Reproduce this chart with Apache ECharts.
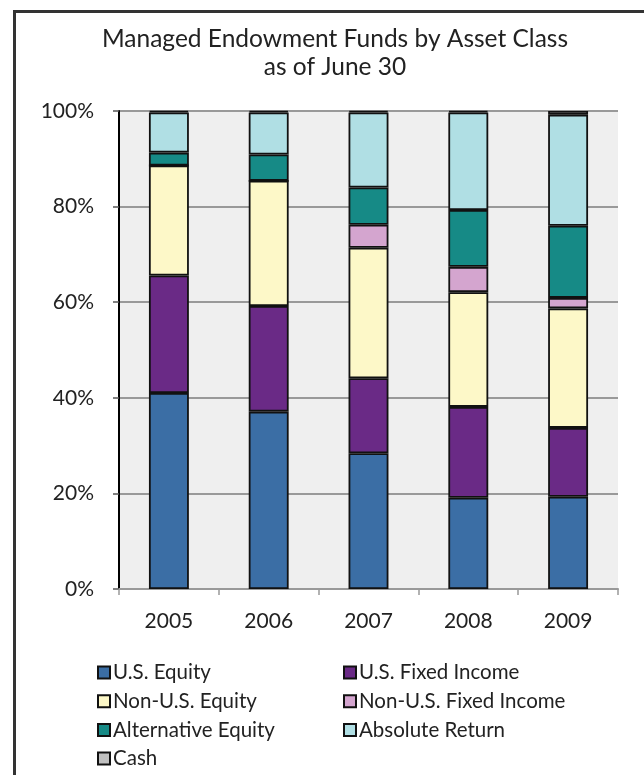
<!DOCTYPE html>
<html>
<head>
<meta charset="utf-8">
<script src="https://cdn.jsdelivr.net/npm/echarts@6/dist/echarts.min.js"></script>
<style>
html,body{margin:0;padding:0;background:#fff;}
#chart{width:644px;height:775px;}
</style>
</head>
<body>
<div id="chart"></div>
<script>
var years = ['2005', '2006', '2007', '2008', '2009'];
var usEquity = [41.0, 37.1, 28.4, 19.1, 19.3];
var usFixedIncome = [24.6, 22.1, 15.7, 19.0, 14.4];
var nonUsEquity = [23.0, 26.2, 27.3, 24.0, 25.0];
var nonUsFixedIncome = [0, 0, 4.8, 5.3, 2.2];
var alternativeEquity = [2.7, 5.5, 7.8, 11.9, 15.1];
var absoluteReturn = [8.4, 8.8, 15.7, 20.4, 23.2];
var cash = [0.3, 0.3, 0.3, 0.3, 0.8];
var yTicks = [0, 20, 40, 60, 80, 100];

var font = 'Lato';
var seriesDefs = [
  ['U.S. Equity', usEquity, '#3b6ea5'],
  ['U.S. Fixed Income', usFixedIncome, '#6a2a86'],
  ['Non-U.S. Equity', nonUsEquity, '#fdf8c8'],
  ['Non-U.S. Fixed Income', nonUsFixedIncome, '#d4a5cf'],
  ['Alternative Equity', alternativeEquity, '#168a86'],
  ['Absolute Return', absoluteReturn, '#b0dfe4'],
  ['Cash', cash, '#c0c0c0']
];

var chart = echarts.init(document.getElementById('chart'));
var legendText = {fontFamily: font, fontSize: 20.5, color: '#222', lineHeight: 20, padding: [0,0,0,-2]};
chart.setOption({
  animation: false,
  backgroundColor: '#fff',
  title: {
    text: 'Managed Endowment Funds by Asset Class\nas of June 30',
    left: 330,
    top: 20,
    textAlign: 'center',
    textStyle: {fontFamily: font, fontSize: 24.5, fontWeight: 'normal', color: '#222', lineHeight: 28}
  },
  grid: {left: 119, right: 26, top: 111, bottom: 186, show: true, backgroundColor: '#efefef', borderWidth: 0},
  legend: [
    {
      data: ['U.S. Equity', 'Non-U.S. Equity', 'Alternative Equity', 'Cash'],
      orient: 'vertical', left: 97, top: 662, itemWidth: 12, itemHeight: 12, itemGap: 7.7, icon: 'rect',
      itemStyle: {borderWidth: 2, borderColor: '#111'},
      textStyle: legendText, padding: 0
    },
    {
      data: ['U.S. Fixed Income', 'Non-U.S. Fixed Income', 'Absolute Return'],
      orient: 'vertical', left: 343, top: 662, itemWidth: 12, itemHeight: 12, itemGap: 7.7, icon: 'rect',
      itemStyle: {borderWidth: 2, borderColor: '#111'},
      textStyle: legendText, padding: 0
    }
  ],
  xAxis: {
    type: 'category',
    data: years,
    boundaryGap: true,
    axisLine: {lineStyle: {color: '#999', width: 2}},
    axisTick: {show: true, interval: 0, length: 6, lineStyle: {color: '#999', width: 1.5}},
    axisLabel: {fontFamily: font, fontSize: 21, color: '#222', margin: 22}
  },
  yAxis: {
    type: 'value',
    min: 0, max: 100, interval: 20,
    axisLine: {show: true, lineStyle: {color: '#000', width: 2}},
    axisTick: {show: true, length: 6, lineStyle: {color: '#555', width: 1.5}},
    axisLabel: {fontFamily: font, fontSize: 21, color: '#222', margin: 25, formatter: '{value}%'},
    splitLine: {show: true, lineStyle: {color: '#999', width: 2}}
  },
  graphic: [{
    type: 'rect', left: 12, top: 9, silent: true, z: 100,
    shape: {width: 660, height: 800},
    style: {fill: 'none', stroke: '#333', lineWidth: 3}
  }],
  series: seriesDefs.map(function (d) {
    return {
      name: d[0], type: 'bar', stack: 'total', data: d[1], barWidth: '40%',
      itemStyle: {color: d[2], borderColor: '#111', borderWidth: 1.8}
    };
  })
});
</script>
</body>
</html>
